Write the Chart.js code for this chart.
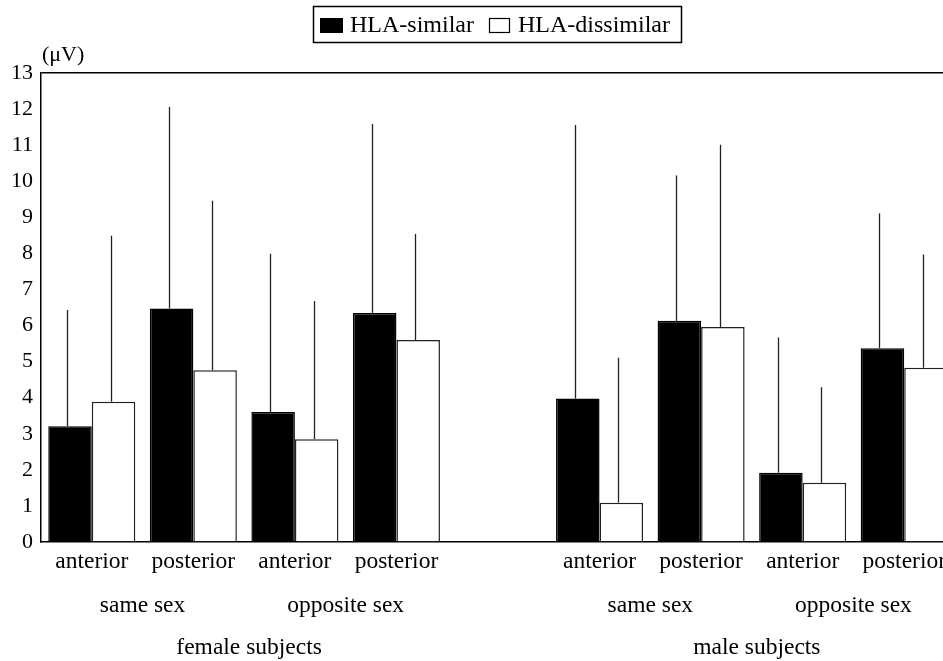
<!DOCTYPE html>
<html>
<head>
<meta charset="utf-8">
<script src="https://cdn.jsdelivr.net/npm/chart.js@4"></script>
<style>
  html, body { margin: 0; padding: 0; overflow: hidden; background: #fff; }
  #wrap { width: 943px; height: 661px; overflow: hidden; }
</style>
</head>
<body>
<div id="wrap"><canvas id="c" width="1000" height="661"></canvas></div>
<script>
// ---- data ----
const categories = ['anterior', 'posterior', 'anterior', 'posterior', '', 'anterior', 'posterior', 'anterior', 'posterior'];
const seriesNames = ['HLA-similar', 'HLA-dissimilar'];
const similarMeans    = [3.21, 6.47, 3.60, 6.35, null, 3.98, 6.13, 1.92, 5.37];
const dissimilarMeans = [3.89, 4.76, 2.85, 5.60, null, 1.09, 5.96, 1.64, 4.83];
const similarUpper    = [6.43, 12.06, 7.99, 11.59, null, 11.56, 10.16, 5.67, 9.11];
const dissimilarUpper = [8.49, 9.46, 6.68, 8.54, null, 5.11, 11.01, 4.29, 7.97];
const sexGroups = [
  { label: 'same sex', from: 0, to: 1 },
  { label: 'opposite sex', from: 2, to: 3 },
  { label: 'same sex', from: 5, to: 6 },
  { label: 'opposite sex', from: 7, to: 8 }
];
const subjectGroups = [
  { label: 'female subjects', from: 0, to: 3 },
  { label: 'male subjects', from: 5, to: 8 }
];
const yMin = 0, yMax = 13, yStep = 1;
const unitLabel = '(\u03bcV)';

const FONT = '"Liberation Serif", "Times New Roman", serif';

const errorBars = {
  id: 'errorBars',
  afterDatasetsDraw(chart) {
    const ctx = chart.ctx;
    const y = chart.scales.y;
    const uppers = [similarUpper, dissimilarUpper];
    ctx.save();
    ctx.strokeStyle = '#222';
    ctx.lineWidth = 1.3;
    chart.data.datasets.forEach((ds, di) => {
      const meta = chart.getDatasetMeta(di);
      meta.data.forEach((bar, i) => {
        const v = ds.data[i];
        const up = uppers[di][i];
        if (v == null || up == null) return;
        const x = Math.round(bar.x - 3) + 0.5;
        ctx.beginPath();
        ctx.moveTo(x, y.getPixelForValue(v));
        ctx.lineTo(x, y.getPixelForValue(up));
        ctx.stroke();
      });
    });
    ctx.restore();
  }
};

const extraText = {
  id: 'extraText',
  afterDraw(chart) {
    const ctx = chart.ctx;
    const xs = chart.scales.x;
    const area = chart.chartArea;
    ctx.save();
    ctx.fillStyle = '#000';
    // unit label
    ctx.font = '22px ' + FONT;
    ctx.textAlign = 'left';
    ctx.textBaseline = 'middle';
    ctx.fillText(unitLabel, area.left + 1, area.top - 18);
    // group labels
    ctx.font = '23.5px ' + FONT;
    ctx.textAlign = 'center';
    sexGroups.forEach(g => {
      const cx = (xs.getPixelForValue(g.from) + xs.getPixelForValue(g.to)) / 2;
      ctx.fillText(g.label, cx, area.bottom + 64);
    });
    subjectGroups.forEach(g => {
      const cx = (xs.getPixelForValue(g.from) + xs.getPixelForValue(g.to)) / 2;
      ctx.fillText(g.label, cx + 5, area.bottom + 106);
    });
    // legend box
    ctx.font = '24px ' + FONT;
    ctx.lineWidth = 1.5;
    ctx.strokeStyle = '#000';
    ctx.strokeRect(313.5, 6.5, 368, 36);
    ctx.fillStyle = '#000';
    ctx.fillRect(320, 18, 23, 15);
    ctx.textAlign = 'left';
    ctx.fillText(seriesNames[0], 350, 26);
    ctx.lineWidth = 1.2;
    ctx.strokeRect(489.5, 18.5, 20, 14);
    ctx.fillText(seriesNames[1], 518, 26);
    ctx.restore();
  }
};

new Chart(document.getElementById('c'), {
  type: 'bar',
  data: {
    labels: categories,
    datasets: [
      {
        label: seriesNames[0],
        data: similarMeans,
        backgroundColor: '#000',
        borderColor: '#000',
        borderWidth: 1.5,
        categoryPercentage: 0.857,
        barPercentage: 1.0
      },
      {
        label: seriesNames[1],
        data: dissimilarMeans,
        backgroundColor: '#fff',
        borderColor: '#222',
        borderWidth: 1.5,
        categoryPercentage: 0.857,
        barPercentage: 1.0
      }
    ]
  },
  options: {
    responsive: false,
    animation: false,
    layout: { padding: { top: 73, right: 45, left: 0, bottom: 0 } },
    plugins: {
      legend: { display: false },
      tooltip: { enabled: false },
      title: { display: false }
    },
    scales: {
      x: {
        grid: { display: false, drawTicks: false },
        border: { display: true, color: '#000', width: 1.5 },
        ticks: {
          color: '#000',
          font: { family: FONT, size: 23.5 },
          padding: 6,
          maxRotation: 0,
          autoSkip: false
        },
        afterFit(scale) { scale.height = 119; }
      },
      y: {
        min: yMin,
        max: yMax,
        grid: {
          drawTicks: false,
          color: ctx => (ctx.tick && ctx.tick.value === yMax ? '#000' : 'rgba(0,0,0,0)'),
          lineWidth: 1.5
        },
        border: { display: true, color: '#000', width: 1.5 },
        ticks: {
          stepSize: yStep,
          color: '#000',
          font: { family: FONT, size: 22 },
          padding: 8
        },
        afterFit(scale) { scale.width = 41; }
      }
    }
  },
  plugins: [errorBars, extraText]
});
</script>
</body>
</html>
